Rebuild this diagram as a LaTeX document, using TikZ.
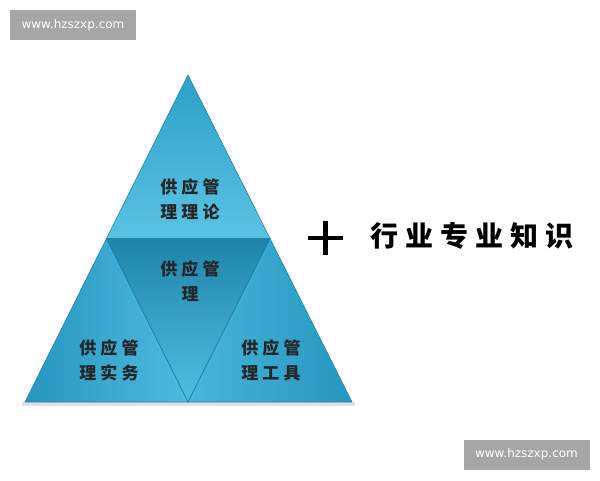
\documentclass[tikz,border=0pt]{standalone}
\usepackage{fontspec}
\setsansfont{DejaVu Sans}
\newfontfamily\cjk[LetterSpace=24]{Noto Sans CJK SC}
\newfontfamily\cjkwide[LetterSpace=25]{Noto Sans CJK SC}
\usetikzlibrary{calc}
\definecolor{wmgray}{HTML}{A6A6A6}
\definecolor{edgeblue}{HTML}{1C7FA3}
\tikzset{
  wm/.style={fill=wmgray, draw=none, text=white, font=\sffamily\fontsize{12}{12}\selectfont, minimum width=126pt, minimum height=30pt, inner sep=0pt},
  tri/.style={font=\cjk\bfseries\fontsize{17}{25}\selectfont, align=center, text=black!85, inner sep=0pt},
  edge/.style={draw=edgeblue, line width=0.8pt}
}
\begin{document}
\begin{tikzpicture}[x=1pt,y=-1pt]
\useasboundingbox (0,0) rectangle (600,480);
% coordinates
\coordinate (A) at (188,75);
\coordinate (L) at (25,402);
\coordinate (R) at (352,402);
\coordinate (ML) at (106.5,238.5);
\coordinate (MR) at (270,238.5);
\coordinate (MB) at (188,402);
% soft shadow under base
\fill[black!12] (22,402) rectangle (355,406);
% top triangle
\shade[top color={rgb,255:red,44;green,160;blue,200}, bottom color={rgb,255:red,90;green,195;blue,228}] (A) -- (MR) -- (ML) -- cycle;
% middle inverted
\shade[top color={rgb,255:red,30;green,132;blue,170}, bottom color={rgb,255:red,80;green,190;blue,226}] (ML) -- (MR) -- (MB) -- cycle;
% left
\shade[left color={rgb,255:red,38;green,150;blue,192}, right color={rgb,255:red,78;green,186;blue,224}] (ML) -- (MB) -- (L) -- cycle;
% right
\shade[left color={rgb,255:red,70;green,182;blue,220}, right color={rgb,255:red,38;green,150;blue,192}] (MR) -- (R) -- (MB) -- cycle;
% edges
\draw[edge] (ML) -- (MR) -- (MB) -- cycle;
\draw[draw={rgb,255:red,30;green,130;blue,170}, line width=0.6pt] (A) -- (R) -- (L) -- cycle;
% texts
\node[tri] (ttop) at (190,199) {供应管\\理理论};
\node[tri] (tmid) at (190,281) {供应管\\理};
\node[tri] (tleft) at (109,360) {供应管\\理实务};
\node[tri] (tright) at (271,360) {供应管\\理工具};
% plus
\coordinate (P) at (325.5,238);
\draw[line width=4.5pt] ($(P)+(-17.5,0)$) -- ($(P)+(17.5,0)$);
\draw[line width=4.5pt] ($(P)+(0,-17)$) -- ($(P)+(0,17)$);
\node[font=\cjkwide\bfseries\fontsize{28}{28}\selectfont, inner sep=0pt, anchor=west] (know) at (370,236) {行业专业知识};
% watermarks
\node[wm] (wm1) at (73,25) {www.hzszxp.com};
\node[wm] (wm2) at (526.5,454.5) {www.hzszxp.com};
\end{tikzpicture}
\end{document}
